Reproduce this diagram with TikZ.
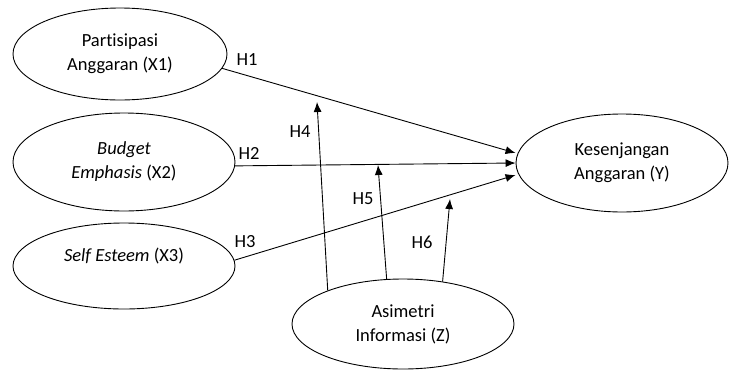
\documentclass[tikz,border=0pt]{standalone}
\usepackage{fontspec}
\setmainfont{Carlito}[Ligatures={NoCommon}]
\usetikzlibrary{arrows.meta}
\usetikzlibrary{shapes}

\begin{document}
\begin{tikzpicture}[x=1pt,y=-1pt, line width=0.9pt,
    every node/.style={font=\fontsize{18.5}{24}\selectfont},
    var/.style={ellipse, draw, align=center, inner sep=0pt},
    hyp/.style={-{Latex[length=10pt,width=8pt]}}]

    \useasboundingbox (0,0) rectangle (729,370);

    %===========================
    % Variables
    %===========================
    \node (X1) at (120,54) [var, minimum width=214pt, minimum height=92pt]{Partisipasi\\Anggaran (X1)};
    \node (X2) at (124,162) [var, minimum width=222pt, minimum height=98pt]{\textit{Budget}\\\textit{Emphasis} (X2)};
    \node (X3) at (124,266) [var, minimum width=222pt, minimum height=86pt, text depth=22pt]{\textit{Self Esteem} (X3)};
    \node (Y) at (622,163) [var, minimum width=212pt, minimum height=98pt]{Kesenjangan\\Anggaran (Y)};
    \node (Z) at (403,324) [var, minimum width=222pt, minimum height=90pt]{Asimetri\\Informasi (Z)};

    %===========================
    % Hypotheses
    %===========================
    \draw[hyp] (X1.-8) to ([yshift=10pt]Y.west);
    \draw[hyp] (X2.-2) to (Y.west);
    \draw[hyp] (X3.3) to ([yshift=-12pt]Y.west);

    % Moderation
    \coordinate (m4) at (317,102);
    \coordinate (m5) at (378,165);
    \coordinate (m6) at (450,199);
    \draw[hyp] (Z.156) to (m4);
    \draw[hyp] (Z.110) to (m5);
    \draw[hyp] (Z.47) to (m6);

    \node (h1) at (247,60) {H1};
    \node (h2) at (249,153) {H2};
    \node (h3) at (245,242) {H3};
    \node (h4) at (300,132) {H4};
    \node (h5) at (363,199) {H5};
    \node (h6) at (422,242) {H6};
\end{tikzpicture}
\end{document}
